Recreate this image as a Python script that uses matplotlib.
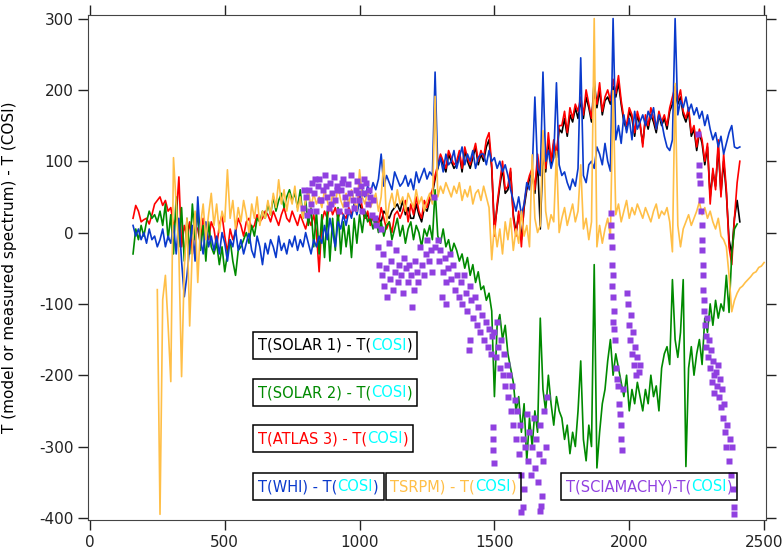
import numpy as np
import matplotlib
matplotlib.use('Agg')
import matplotlib.pyplot as plt
from matplotlib.patches import Rectangle
from matplotlib.transforms import Bbox, IdentityTransform

plt.rcParams['axes.unicode_minus'] = False

# T(model or measured) - T(COSI), 10 nm steps
red_start = 160
red = [20, 38, 30, 15, 18, 20, 12, 25, 40, 45,
       50, 38, 45, 30, 35, 10, 20, 78, -20, 10,
       -5, 15, -30, 10, 5, -15, 20, 0, -10, 15,
       5, -20, 10, 25, -5, -28, 5, -10, 0, 20,
       10, -5, 15, 20, 5, 10, 25, 15, 20, 30,
       25, 15, 30, 20, 10, 25, 35, 20, 15, 30,
       20, 10, 25, 15, 5, 20, 10, 25, 0, -55,
       15, 30, 20, 40, 25, 35, 20, 30, 25, 20,
       35, 25, 40, 30, 55, 35, 20, 30, 10, 25,
       20, 10, 35, 20, 5, 15, 0, 25, 30, 20,
       30, 45, 15, 40, 25, 50, 30, 20, 45, 35,
       50, 60, 80, 95, 110, 100, 90, 115, 105, 95,
       100, 115, 90, 120, 105, 95, 110, 125, 100, 115,
       105, 130, 140, 95, -5, 40, 70, 100, 60, 65,
       90, 20, -5, 30, -20, 40, 65, 80, 90, 60,
       110, 80, 120, 90, 140, 100, 130, 110, 150, 150,
       170, 140, 175, 160, 180, 170, 190, 165, 200, 180,
       160, 195, 180, 210, 170, 190, 200, 185, 215, 195,
       220, 185, 160, 150, 175, 165, 140, 170, 155, 120,
       165, 150, 175, 160, 145, 170, 155, 165, 150, 175,
       190, 205, 185, 200, 170, 160, 175, 140, 150, 120,
       145, 130, 100, 125, 40, 90, 60, 130, 50, 110,
       60, -20, -45, 20, 70, 100]

blue_start = 160
blue = [10, -5, 5, -10, 0, -15, 5, -10, -5, -20,
        -10, 5, -20, -5, -15, 10, -30, 20, -40, -90,
        -60, -20, 10, -40, 50, -10, -30, 15, -20, -5,
        -25, -5, -30, 0, -15, -40, -10, -20, 5, -25,
        -10, -30, -15, 0, -25, -35, -5, -20, -45, -15,
        -30, -10, -20, -35, -5, -25, -15, -30, -10, -20,
        -5, -25, -10, -20, 0, -15, -30, -10, -20, -5,
        -15, 10, -10, 20, 0, -20, 15, 5, 25, 10,
        30, 20, 40, 25, 45, 60, 50, 65, 55, 70,
        60, 75, 110, 65, 80, 70, 60, 85, 75, 65,
        70, 80, 65, 75, 60, 85, 70, 80, 90, 75,
        85, 80, 225, 90, 105, 85, 110, 95, 100, 115,
        90, 105, 120, 95, 110, 100, 115, 90, 105, 110,
        110, 95, 115, 100, 105, 90, 100, 85, 95, 80,
        60, 45, 30, 50, 25, 40, 70, 60, 85, 190,
        90, 80, 225, 100, 115, 90, 105, 210, 95, 80,
        85, 70, 60, 75, 65, 90, 245, 80, 70, 95,
        100, 90, 120, 110, 95, 125, 100, 86, 300, 130,
        150, 125, 165, 140, 160, 130, 170, 145, 155, 165,
        150, 170, 160, 175, 145, 165, 155, 135, 120, 115,
        130, 300, 165, 185, 175, 190, 170, 180, 165, 175,
        160, 170, 150, 165, 145, 130, 140, 120, 135, 110,
        125, 140, 150, 120, 118, 120]

green_start = 160
green = [-30, 5, -10, 10, -5, 15, 30, 20, 25, 15,
         30, 10, 40, -10, 25, -30, 50, -20, 35, -40,
         20, -30, 40, -10, 30, -25, 10, -40, 15, -20,
         -30, -15, -45, -20, -55, -30, -10, -40, -60, -25,
         -20, -10, 0, -15, 10, -5, 20, 15, 30, 20,
         40, 25, 50, 30, 45, 55, 35, 50, 60, 45,
         55, 35, 60, 20, 45, 10, 35, -20, 30, -30,
         25, -35, 30, -40, 20, -25, 35, -30, 15, -20,
         10, -35, 20, -15, 25, 0, 30, 15, 20, 5,
         20, 0, 15, -5, 10, 15, -10, 5, 20, -5,
         10, -15, 5, 15, -10, 10, 0, -20, 5, -5,
         10, -10, 60, -5, -15, 5, -20, -10, -30, -15,
         -25, -40, -30, -50, -35, -60, -45, -70, -55, -80,
         -75, -95, -85, -110, -230, -130, -115, -150, -130, -170,
         -190, -210, -250, -230, -280, -240, -320, -260, -300, -250,
         -280, -120, -220, -250, -200, -240, -270, -230, -250, -260,
         -290, -270, -310, -280, -300, -250, -180, -290, -320, -270,
         -300, -45, -330, -280, -240, -220, -180, -150, -200, -170,
         -190, -210, -230, -200, -250, -220, -240, -210, -230, -250,
         -220, -240, -200, -230, -215, -250, -190, -170, -160, -185,
         -66, -150, -175, -140, -66, -328, -190, -160, -200, -170,
         -150, -185, -120, -140, -100, -130, -95, -120, -100, -110,
         -60, -112, -30, 5, 12]

orange_start = 250
orange = [-80, -395, -94, -60, -130, -209, 105, 40, -30, -202,
          -50, 20, -131, -20, 30, -70, 10, 40, -10, 25,
          55, 10, 40, 0, 30, 15, 88, 20, 45, 5,
          35, 15, 45, 25, 0, 40, 20, 50, 10, 30,
          20, 45, 25, 55, 35, 74, 40, 60, 30, 55,
          40, 65, 30, 50, 20, 45, 60, 35, 55, 40,
          50, 35, 60, 45, 30, 55, 40, 65, 45, 35,
          55, 40, 60, 45, 30, 88, 50, 40, 60, 35,
          45, 55, 30, 50, 102, 14, 40, 55, 35, 60,
          40, 50, 30, 55, 45, 35, 60, 40, 50, 30,
          45, 55, 40, 191, 50, 65, 55, 70, 60, 50,
          65, 55, 70, 45, 60, 50, 65, 40, 55, 60,
          45, 65, 50, 35, -38, 10, -20, 5, -30, 15,
          -10, 20, -25, 5, -15, 30, -5, 10, -20, 109,
          20, 0, 10, 143, 30, 5, 25, 15, 114, 0,
          20, 35, 10, 25, 40, 15, 30, 95, 5, 20,
          -10, 15, 300, -20, 10, -15, 5, 20, -5, 199,
          25, 40, 15, 30, 45, 20, 35, 25, 40, 30,
          20, 35, 25, 15, 30, 40, 20, 30, 25, 35,
          15, -27, 209, 10, -20, 5, 15, 25, 10, 20,
          30, 43, 25, 35, 20, 30, 15, 5, 20, -5,
          -10, -20, -60, -111, -95, -85, -78, -75, -70, -66,
          -62, -57, -55, -49, -47, -42]

black_start = 1000
black = [40, 30, 20, 25, 15, 20, 10, 20, 15, 30,
         25, 20, 30, 35, 40, 30, 45, 25, 35, 20,
         20, 40, 25, 15, 35, 30, 45, 55, 75, 90,
         105, 95, 85, 110, 100, 90, 95, 110, 85, 115,
         100, 90, 105, 120, 95, 110, 100, 120, 130, 90,
         5, 35, 65, 90, 55, 60, 85, 25, 0, 25,
         -10, 35, 60, 75, 85, 55, 100, 5, 110, 85,
         130, 95, 125, 105, 145, 140, 160, 135, 165, 155,
         175, 160, 185, 160, 190, 175, 155, 213, 175, 200,
         165, 185, 190, 180, 205, 190, 210, 180, 155, 145,
         170, 160, 135, 165, 150, 125, 160, 145, 165, 155,
         140, 165, 150, 160, 145, 170, 180, 195, 180, 190,
         165, 155, 170, 135, 145, 115, 140, 125, 95, 120,
         50, 85, 65, 120, 55, 100, 55, -10, -30, 20,
         45, 15]

# SCIAMACHY points (wavelength, difference)
sciamachy = [
    (790, 35), (800, 50), (805, 25), (812, 60), (820, 40), (825, 70), (832, 55),
    (840, 30), (845, 65), (850, 75), (858, 45), (865, 60), (870, 80), (878, 50),
    (885, 35), (890, 70), (898, 55), (905, 78), (910, 45), (918, 65), (925, 30),
    (930, 60), (938, 75), (945, 50), (950, 40), (958, 68), (965, 55), (970, 80),
    (978, 35), (985, 60), (990, 72), (998, 45), (1005, 65), (1010, 30), (1018, 55),
    (1025, 70), (1030, 40), (1038, 50), (1045, 25), (1050, 45), (1058, 20),
    (795, 60), (815, 30), (835, 75), (855, 45), (875, 65), (895, 40), (915, 60),
    (935, 70), (955, 30), (975, 45), (995, 55), (1015, 75), (1035, 60),
    (1062, 10), (1068, -20), (1072, -45), (1078, 5), (1082, -60), (1088, -30),
    (1092, -75), (1098, -50), (1102, -90), (1108, -15), (1112, -65), (1118, -40),
    (1125, -80), (1130, -55), (1135, -25), (1142, -70), (1148, -45), (1155, -60),
    (1160, -85), (1165, -35), (1172, -50), (1178, -70), (1185, -45), (1190, -60),
    (1196, -105), (1200, -80), (1205, -40), (1212, -55), (1218, -70), (1225, -20),
    (1230, -45), (1238, -60), (1245, -30), (1250, -10), (1258, -40), (1265, -25),
    (1270, -55), (1275, 50), (1280, -20),
    (1290, -10), (1295, -40), (1300, -25), (1305, -90), (1308, -55), (1315, -35),
    (1320, -70), (1322, -100), (1328, -50), (1335, -30), (1340, -65), (1348, -45),
    (1355, -80), (1360, -60), (1368, -90), (1375, -70), (1380, -100), (1388, -60),
    (1395, -85), (1400, -110), (1404, -165), (1408, -75), (1410, -150), (1415, -95),
    (1420, -120), (1428, -90), (1435, -130), (1440, -105), (1448, -140), (1455, -115),
    (1460, -150), (1468, -125), (1475, -160), (1480, -135), (1488, -170), (1492, -145),
    (1494, -272), (1495, -290), (1496, -305), (1497, -323),
    (1500, -140), (1505, -175), (1510, -125), (1515, -160), (1520, -190), (1525, -150),
    (1530, -200), (1535, -170), (1540, -215), (1545, -185), (1550, -230), (1555, -200),
    (1560, -250), (1565, -215), (1570, -270), (1575, -235), (1580, -290), (1585, -250),
    (1590, -310), (1595, -270), (1600, -340), (1605, -290), (1610, -360), (1615, -300),
    (1620, -255), (1625, -320), (1630, -280), (1635, -340), (1640, -300), (1645, -260),
    (1650, -330), (1655, -290), (1660, -350), (1665, -310), (1670, -270), (1675, -370),
    (1680, -320), (1685, -250), (1690, -300), (1695, -230),
    (1598, -392), (1605, -385), (1668, -390), (1672, -383),
    (1932, 28), (1934, 10), (1933, -5), (1936, -20), (1935, -45), (1938, -60),
    (1937, -75), (1940, -90), (1942, -110), (1939, -125), (1944, -135), (1947, -150),
    (1950, -190), (1955, -205), (1960, -215), (1962, -240), (1965, -255), (1968, -270),
    (1970, -290), (1972, -305), (1975, -220), (1990, -85), (1995, -100), (2000, -130),
    (2003, -150), (2006, -115), (2010, -170), (2013, -140), (2018, -185), (2022, -160),
    (2026, -200), (2030, -175), (2035, -195), (2040, -185),
    (2255, 138), (2258, 95), (2260, 80), (2262, 70), (2265, 45), (2266, 30),
    (2268, 10), (2270, -10), (2270, -25), (2272, -45), (2274, -60), (2275, -80),
    (2276, -95), (2278, -110), (2280, -130), (2283, -145), (2286, -160), (2290, -120),
    (2293, -175), (2296, -150), (2300, -190), (2303, -165), (2306, -210), (2310, -180),
    (2313, -200), (2316, -225), (2320, -195), (2324, -215), (2328, -185), (2332, -230),
    (2336, -205), (2340, -245), (2344, -220), (2348, -260), (2352, -240), (2356, -280),
    (2360, -300), (2364, -270), (2368, -320), (2372, -290), (2376, -340), (2380, -300),
    (2384, -360), (2388, -395), (2390, -385),
]

c_black = '#000000'
c_red = '#ff0000'
c_green = '#008a00'
c_blue = '#0a3acc'
c_orange = '#ffbf47'
c_purple = '#9040e0'
c_cyan = '#00ffff'


def wl(start, vals):
    return np.arange(start, start + 10 * len(vals), 10)


W, H = 783, 555
fig = plt.figure(figsize=(W / 100, H / 100), dpi=100)
ax = fig.add_axes([88 / W, 1 - 520 / H, (766 - 88) / W, (520 - 15) / H])

ax.plot(wl(black_start, black), black, color=c_black, lw=1.2)
ax.plot(wl(red_start, red), red, color=c_red, lw=1.2)
ax.plot(wl(green_start, green), green, color=c_green, lw=1.2)
ax.plot(wl(blue_start, blue), blue, color=c_blue, lw=1.2)
ax.plot(wl(orange_start, orange), orange, color=c_orange, lw=1.2)
sx, sy = zip(*sciamachy)
ax.plot(sx, sy, 's', color=c_purple, ms=4, mec='none', ls='none')

ax.set_xlim(-7, 2507)
ax.set_ylim(-403, 305)
ax.set_xticks(range(0, 2501, 500))
ax.set_yticks(range(-400, 301, 100))
ax.tick_params(direction='out', length=7, width=1, top=True, right=True,
               labelsize=11, colors='#222222')
for s in ax.spines.values():
    s.set_color('#444444')
ax.set_ylabel('T (model or measured spectrum) - T (COSI)', fontsize=11)
ax.yaxis.set_label_coords(-0.105, 0.5)

fs = 10.5
padx, pady = 5, 6


# coloured label pieces on one baseline, with a box round them
def label_box(x_px, y_px, parts):
    r = fig.canvas.get_renderer()
    x = x_px
    arts = []
    for s, c in parts:
        t = fig.text(x, H - y_px, s, transform=IdentityTransform(), va='baseline',
                     ha='left', color=c, fontsize=fs)
        arts.append(t)
        x += t.get_window_extent(r).width
    bb = Bbox.union([a.get_window_extent(r) for a in arts])
    rect = Rectangle((bb.x0 - padx, bb.y0 - pady), bb.width + 2 * padx, bb.height + 2 * pady,
                     transform=IdentityTransform(), fill=False, ec='black', lw=1.1)
    fig.add_artist(rect)
    return bb.x1 + padx


fig.canvas.draw()
label_box(258, 350, [('T(SOLAR 1) - T(', c_black), ('COSI', c_cyan), (')', c_black)])
label_box(258, 397, [('T(SOLAR 2) - T(', c_green), ('COSI', c_cyan), (')', c_green)])
label_box(258, 443, [('T(ATLAS 3) - T(', c_red), ('COSI', c_cyan), (')', c_red)])
right4 = label_box(258, 491, [('T(WHI) - T(', c_blue), ('COSI', c_cyan), (')', c_blue)])
label_box(right4 + 2 + padx, 491, [('TSRPM) - T(', c_orange), ('COSI', c_cyan), (')', c_orange)])
label_box(566, 491, [('T(SCIAMACHY)-T(', c_purple), ('COSI', c_cyan), (')', c_purple)])

fig.savefig('out.png', dpi=100)
